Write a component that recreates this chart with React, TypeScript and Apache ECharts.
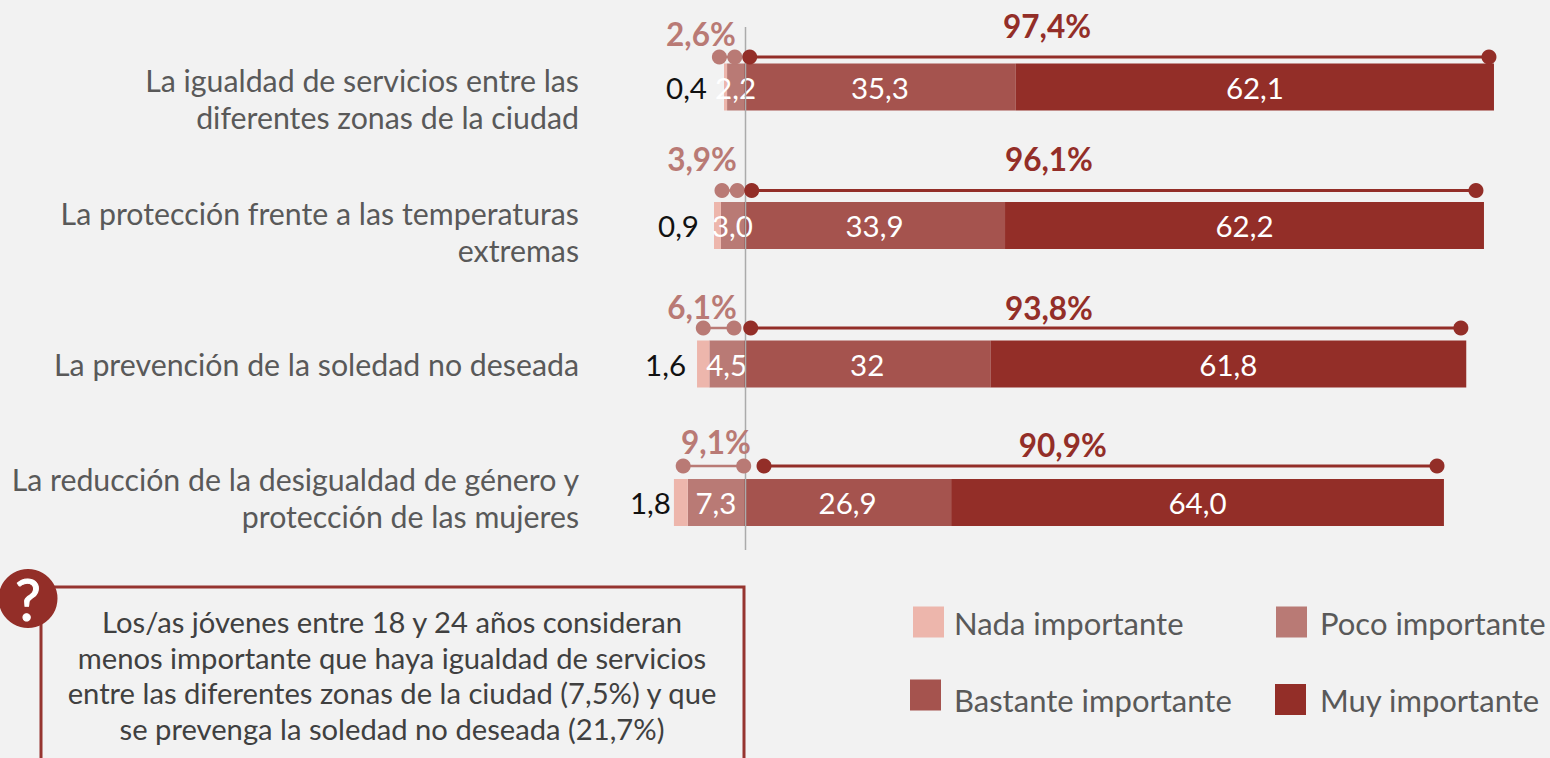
import React, { useEffect, useRef } from "react";
import * as echarts from "echarts";

const categories = [
  "La igualdad de servicios entre las\ndiferentes zonas de la ciudad",
  "La protección frente a las temperaturas\nextremas",
  "La prevención de la soledad no deseada",
  "La reducción de la desigualdad de género y\nprotección de las mujeres",
];
const nada = [-0.4, -0.9, -1.6, -1.8];
const poco = [-2.2, -3.0, -4.5, -7.3];
const bastante = [35.3, 33.9, 32, 26.9];
const muy = [62.1, 62.2, 61.8, 64.0];
const nadaLabels = ["0,4", "0,9", "1,6", "1,8"];
const pocoLabels = ["2,2", "3,0", "4,5", "7,3"];
const bastanteLabels = ["35,3", "33,9", "32", "26,9"];
const muyLabels = ["62,1", "62,2", "61,8", "64,0"];
const lowTotals = ["2,6%", "3,9%", "6,1%", "9,1%"];
const highTotals = ["97,4%", "96,1%", "93,8%", "90,9%"];
// dumbbell ends, read in axis units
const lowStart = [-3.2, -2.86, -5.29, -7.9];
const lowEnd = [-1.2, -0.87, -1.3, -0.04];
const highStart = [0.74, 1.0, 0.87, 2.6];
const highEnd = [96.75, 95.06, 93.1, 90.0];
const lowLabelAt = [-5.6, -5.45, -5.45, -3.64];
const highLabelAt = [39.35, 39.6, 39.6, 41.4];

// layout offsets (px), kept apart from the values
const dumbbellDy = [-30, -35, -36, -36.5];
const lowLabelDy = [-53, -66.5, -57, -60.5];
const highLabelDy = [-61, -66.5, -56, -57.5];
const nadaLabelGap = [17, 15, 11, 3];
const categorySpacer = [23, 12, 0, -11];

const NADA = "#EDB6AC";
const POCO = "#B97A75";
const BASTANTE = "#A5534E";
const MUY = "#932E28";
const FONT = "Lato";

const noteText =
  "Los/as jóvenes entre 18 y 24 años consideran\nmenos importante que haya igualdad de servicios\nentre las diferentes zonas de la ciudad (7,5%) y que\nse prevenga la soledad no deseada (21,7%)";

function legendOf(name: string, left: number, top: number, pad: number, spacer: number) {
  return {
    show: true,
    data: [{ name, icon: "rect" }],
    left,
    top: top - spacer / 2,
    padding: 0,
    itemWidth: 31,
    itemHeight: 31,
    selectedMode: false,
    formatter: spacer > 0 ? "{s| }\n{t|{name}}" : "{t|{name}}",
    textStyle: {
      padding: [0, 0, 0, pad],
      rich: {
        s: { lineHeight: spacer, fontSize: 4 },
        t: { fontFamily: FONT, fontSize: 31, color: "#595959", lineHeight: 31 },
      },
    },
  };
}

function barSeries(name: string, values: number[], color: string, labels: string[], label: any) {
  return {
    type: "bar",
    name,
    stack: "total",
    barWidth: 47,
    silent: true,
    itemStyle: { color },
    data: values.map((value, i) => ({
      value,
      label: {
        ...label,
        ...(name === "Nada importante" ? { distance: nadaLabelGap[i] } : {}),
        formatter: labels[i],
      },
    })),
  };
}

function categoryRich() {
  const rich: any = {
    n: { fontFamily: FONT, fontSize: 30.3, lineHeight: 37, color: "#595959", align: "right" },
  };
  categorySpacer.forEach((h, i) => {
    if (h !== 0) rich["s" + i] = { lineHeight: Math.abs(h), fontSize: 4 };
  });
  return rich;
}

function categoryLabel(value: string, index: number) {
  const lines = value
    .split("\n")
    .map((line) => `{n|${line}}`)
    .join("\n");
  const h = categorySpacer[index];
  if (h === 0) return lines;
  return h > 0 ? `{s${index}| }\n${lines}` : `${lines}\n{s${index}| }`;
}

export default function App() {
  const ref = useRef<HTMLDivElement>(null);
  useEffect(() => {
    document.body.style.margin = "0";
    document.body.style.overflow = "hidden";
    const chart = echarts.init(ref.current!, null, { renderer: "svg" });
    const white = { show: true, position: "inside", color: "#fff", fontFamily: FONT, fontSize: 29.5 };
    const option: any = {
      animation: false,
      backgroundColor: "#F2F2F2",
      tooltip: { show: false },
      legend: [
        legendOf("Nada importante", 913, 605, 5, 1),
        legendOf("Poco importante", 1276, 605, 8, 1),
        legendOf("Bastante importante", 910, 682, 8, 9),
        legendOf("Muy importante", 1275, 684, 9, 0),
      ],
      grid: { left: 590, top: 17.75, width: 954.8, height: 554, containLabel: false },
      xAxis: { type: "value", min: -20, max: 104, show: false },
      yAxis: {
        type: "category",
        inverse: true,
        data: categories,
        axisLine: { show: false },
        axisTick: { show: false },
        axisLabel: {
          margin: 11,
          align: "right",
          formatter: categoryLabel,
          rich: categoryRich(),
        },
      },
      series: [
        barSeries("Poco importante", poco, POCO, pocoLabels, white),
        barSeries("Nada importante", nada, NADA, nadaLabels, {
          show: true,
          position: "left",
          color: "#111",
          fontFamily: FONT,
          fontSize: 29.5,
        }),
        barSeries("Bastante importante", bastante, BASTANTE, bastanteLabels, white),
        barSeries("Muy importante", muy, MUY, muyLabels, white),
        {
          type: "custom",
          silent: true,
          clip: false,
          z: 5,
          encode: { x: [0, 1, 2, 3], y: 4 },
          data: categories.map((_, i) => [lowStart[i], lowEnd[i], highStart[i], highEnd[i], i]),
          renderItem: (_p: any, api: any) => {
            const i = api.value(4);
            const y0 = api.coord([0, i])[1];
            const y = y0 + dumbbellDy[i];
            const x = (v: number) => api.coord([v, i])[0];
            const seg = (v1: number, v2: number, color: string, lw: number) => [
              { type: "line", shape: { x1: x(v1), y1: y, x2: x(v2), y2: y }, style: { stroke: color, lineWidth: lw } },
              { type: "circle", shape: { cx: x(v1), cy: y, r: 7.5 }, style: { fill: color } },
              { type: "circle", shape: { cx: x(v2), cy: y, r: 7.5 }, style: { fill: color } },
            ];
            const txt = (text: string, v: number, dy: number, color: string) => ({
              type: "text",
              style: {
                text,
                x: x(v),
                y: y0 + dy,
                align: "center",
                verticalAlign: "middle",
                fontFamily: FONT,
                fontWeight: 700,
                fontSize: 31.5,
                fill: color,
              },
            });
            return {
              type: "group",
              children: [
                ...seg(lowStart[i], lowEnd[i], POCO, 2.5),
                ...seg(highStart[i], highEnd[i], MUY, 3),
                txt(lowTotals[i], lowLabelAt[i], lowLabelDy[i], POCO),
                txt(highTotals[i], highLabelAt[i], highLabelDy[i], MUY),
              ],
            };
          },
        },
        {
          type: "custom",
          silent: true,
          clip: false,
          z: 4,
          encode: { x: 0, y: 1 },
          data: [[0, 0]],
          renderItem: (_p: any, api: any) => {
            const x = api.coord([0, 0])[0] + 1.5;
            const top = api.coord([0, 0])[1] - 60;
            const bottom = api.coord([0, 3])[1] + 47.5;
            return {
              type: "line",
              shape: { x1: x, y1: top, x2: x, y2: bottom },
              style: { stroke: "#ABABAB", lineWidth: 1.5 },
            };
          },
        },
      ],
      graphic: [
        {
          type: "rect",
          shape: { x: 41, y: 587, width: 703, height: 220 },
          style: { fill: "transparent", stroke: "#963530", lineWidth: 3 },
          silent: true,
        },
        {
          type: "circle",
          shape: { cx: 28, cy: 598.5, r: 29.5 },
          style: { fill: "#932E28" },
          silent: true,
        },
        {
          type: "text",
          style: {
            text: "?",
            x: 28,
            y: 598,
            align: "center",
            verticalAlign: "middle",
            fontFamily: FONT,
            fontWeight: 400,
            fontSize: 58,
            fill: "#fff",
            stroke: "#fff",
            lineWidth: 1,
          },
          silent: true,
        },
        {
          type: "text",
          style: {
            text: noteText,
            x: 392,
            y: 675,
            align: "center",
            verticalAlign: "middle",
            fontFamily: FONT,
            fontSize: 29.2,
            lineHeight: 35.5,
            fill: "#404040",
          },
          silent: true,
        },
      ],
    };
    chart.setOption(option);
    return () => chart.dispose();
  }, []);
  return (
    <div
      ref={ref}
      style={{ position: "fixed", left: 0, top: 0, width: 1550, height: 758, background: "#F2F2F2" }}
    />
  );
}
